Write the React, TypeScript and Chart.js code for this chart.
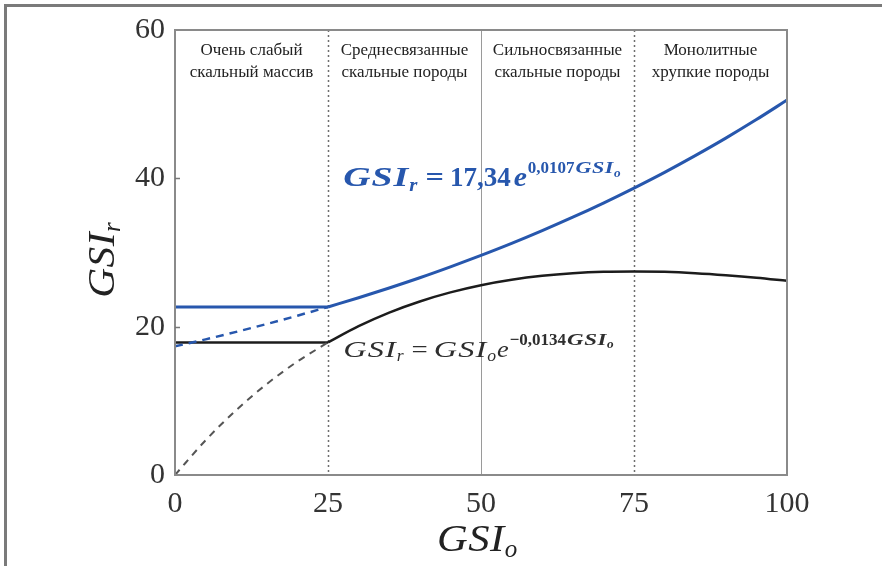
import React, { useEffect, useRef } from "react";
import { Chart, registerables } from "chart.js";

Chart.register(...registerables);

// ---- data ----
const gsiO = [0, 5, 10, 15, 20, 25, 30, 35, 40, 45, 50, 55, 60, 65, 70, 75, 80, 85, 90, 95, 100];
const blueFit = [17.34, 18.29, 19.3, 20.36, 21.48, 22.66, 23.9, 25.22, 26.6, 28.07, 29.61, 31.23, 32.95, 34.76, 36.67, 38.69, 40.81, 43.06, 45.42, 47.92, 50.55];
const blackFit = [0, 4.68, 8.75, 12.27, 15.3, 17.88, 20.07, 21.9, 23.4, 24.62, 25.59, 26.32, 26.85, 27.2, 27.4, 27.45, 27.39, 27.21, 26.94, 26.6, 26.18];
const bluePlateau = 22.66;
const blackPlateau = 17.88;
const breakPoint = 25;
const xTickStep = 25;
const yTickStep = 20;
const xRange = [0, 100];
const yRange = [0, 60];
const zoneBounds = [0, 25, 50, 75, 100];
const dottedLines = [25, 75];
const solidLines = [50];
const zoneLabels = [
  ["Очень слабый", "скальный массив"],
  ["Среднесвязанные", "скальные породы"],
  ["Сильносвязанные", "скальные породы"],
  ["Монолитные", "хрупкие породы"],
];
const blueEqAnchor = { x: 27.5, y: 39.0 };
const blackEqAnchor = { x: 27.5, y: 15.9 };

const SERIF = "'Liberation Serif', 'Times New Roman', serif";
const BLUE = "#2757ad";
const BLACK = "#1c1c1c";

type Seg = { t: string; font: string; color: string; dy?: number; gap?: number; ls?: number; sx?: number };

function segWidth(ctx: CanvasRenderingContext2D, s: Seg) {
  ctx.font = s.font;
  (ctx as any).letterSpacing = "0px";
  return ctx.measureText(s.t).width * (s.sx || 1) + (s.ls || 0) * s.t.length + (s.gap || 0);
}

function richWidth(ctx: CanvasRenderingContext2D, segs: Seg[]) {
  let w = 0;
  for (const s of segs) w += segWidth(ctx, s);
  return w;
}

function drawRich(ctx: CanvasRenderingContext2D, x: number, y: number, segs: Seg[]) {
  let cx = x;
  ctx.textAlign = "left";
  ctx.textBaseline = "alphabetic";
  for (const s of segs) {
    const w = segWidth(ctx, s);
    ctx.save();
    ctx.font = s.font;
    ctx.fillStyle = s.color;
    (ctx as any).letterSpacing = `${(s.ls || 0) / (s.sx || 1)}px`;
    ctx.translate(cx, y + (s.dy || 0));
    ctx.scale(s.sx || 1, 1);
    ctx.fillText(s.t, 0, 0);
    ctx.restore();
    cx += w;
  }
}

const decoPlugin = {
  id: "deco",
  beforeDraw(chart: any) {
    const ctx = chart.ctx as CanvasRenderingContext2D;
    ctx.save();
    ctx.fillStyle = "#ffffff";
    ctx.fillRect(0, 0, chart.width, chart.height);
    ctx.strokeStyle = "#7a7a7a";
    ctx.lineWidth = 3;
    ctx.beginPath();
    ctx.moveTo(5.5, chart.height);
    ctx.lineTo(5.5, 5.5);
    ctx.lineTo(chart.width, 5.5);
    ctx.stroke();
    ctx.restore();
  },
  beforeDatasetsDraw(chart: any) {
    const ctx = chart.ctx as CanvasRenderingContext2D;
    const { top, bottom } = chart.chartArea;
    const xs = chart.scales.x;
    ctx.save();
    ctx.strokeStyle = "#6e6e6e";
    ctx.lineWidth = 1.5;
    ctx.setLineDash([2, 3]);
    for (const v of dottedLines) {
      const px = Math.round(xs.getPixelForValue(v)) + 0.5;
      ctx.beginPath();
      ctx.moveTo(px, top);
      ctx.lineTo(px, bottom);
      ctx.stroke();
    }
    ctx.setLineDash([]);
    ctx.strokeStyle = "#9a9a9a";
    ctx.lineWidth = 1;
    for (const v of solidLines) {
      const px = Math.round(xs.getPixelForValue(v)) + 0.5;
      ctx.beginPath();
      ctx.moveTo(px, top);
      ctx.lineTo(px, bottom);
      ctx.stroke();
    }
    ctx.restore();
  },
  afterDatasetsDraw(chart: any) {
    const ctx = chart.ctx as CanvasRenderingContext2D;
    const { left, right, top, bottom } = chart.chartArea;
    const xs = chart.scales.x;
    const ys = chart.scales.y;
    ctx.save();
    // plot frame
    ctx.strokeStyle = "#8a8a8a";
    ctx.lineWidth = 2;
    ctx.strokeRect(left, top, right - left, bottom - top);
    // inward ticks on y axis
    ctx.lineWidth = 1.5;
    ctx.strokeStyle = "#777";
    for (let v = yRange[0] + yTickStep; v < yRange[1]; v += yTickStep) {
      const py = Math.round(ys.getPixelForValue(v)) + 0.5;
      ctx.beginPath();
      ctx.moveTo(left, py);
      ctx.lineTo(left + 5, py);
      ctx.stroke();
    }
    // zone labels
    ctx.fillStyle = "#222";
    ctx.font = `17px ${SERIF}`;
    ctx.textAlign = "center";
    ctx.textBaseline = "alphabetic";
    for (let i = 0; i < zoneLabels.length; i++) {
      const cx = xs.getPixelForValue((zoneBounds[i] + zoneBounds[i + 1]) / 2);
      ctx.fillText(zoneLabels[i][0], cx, top + 25);
      ctx.fillText(zoneLabels[i][1], cx, top + 47);
    }
    // blue equation
    const blueSegs: Seg[] = [
      { t: "GSI", font: `bold italic 28px ${SERIF}`, color: BLUE, sx: 1.35, ls: 1 },
      { t: "r", font: `bold italic 19px ${SERIF}`, color: BLUE, dy: 5, gap: 8, sx: 1.1 },
      { t: "=", font: `bold 27px ${SERIF}`, color: BLUE, gap: 6, sx: 1.2 },
      { t: "17,34", font: `bold 27px ${SERIF}`, color: BLUE, gap: 3 },
      { t: "e", font: `bold italic 27px ${SERIF}`, color: BLUE, gap: 1, sx: 1.1 },
      { t: "0,0107", font: `bold 17px ${SERIF}`, color: BLUE, dy: -13, gap: 1 },
      { t: "GSI", font: `bold italic 17px ${SERIF}`, color: BLUE, dy: -13, sx: 1.3, ls: 0.5 },
      { t: "o", font: `bold italic 12px ${SERIF}`, color: BLUE, dy: -9, sx: 1.1 },
    ];
    drawRich(ctx, xs.getPixelForValue(blueEqAnchor.x), ys.getPixelForValue(blueEqAnchor.y), blueSegs);
    // black equation
    const C = "#2e2e2e";
    const blackSegs: Seg[] = [
      { t: "GSI", font: `italic 24px ${SERIF}`, color: C, sx: 1.35, ls: 1 },
      { t: "r", font: `italic 16px ${SERIF}`, color: C, dy: 4, gap: 8, sx: 1.1 },
      { t: "=", font: `24px ${SERIF}`, color: C, gap: 6, sx: 1.2 },
      { t: "GSI", font: `italic 24px ${SERIF}`, color: C, sx: 1.35, ls: 1 },
      { t: "o", font: `italic 16px ${SERIF}`, color: C, dy: 4, gap: 1, sx: 1.1 },
      { t: "e", font: `italic 24px ${SERIF}`, color: C, gap: 1, sx: 1.1 },
      { t: "−0,0134", font: `bold 17px ${SERIF}`, color: C, dy: -12, gap: 1 },
      { t: "GSI", font: `bold italic 17px ${SERIF}`, color: C, dy: -12, sx: 1.35, ls: 0.5 },
      { t: "o", font: `bold italic 12px ${SERIF}`, color: C, dy: -9, sx: 1.1 },
    ];
    drawRich(ctx, xs.getPixelForValue(blackEqAnchor.x), ys.getPixelForValue(blackEqAnchor.y), blackSegs);
    // axis titles
    const tf = `italic 37px ${SERIF}`;
    const sf = `italic 25px ${SERIF}`;
    const xTitle: Seg[] = [
      { t: "GSI", font: tf, color: "#222", sx: 1.15, ls: 0.5 },
      { t: "o", font: sf, color: "#222", dy: 6 },
    ];
    drawRich(ctx, 437 + (xs.getPixelForValue(50) - 481), 551, xTitle);
    const yTitle: Seg[] = [
      { t: "GSI", font: tf, color: "#222", sx: 1.12, ls: 0.5 },
      { t: "r", font: sf, color: "#222", dy: 6 },
    ];
    const yw = richWidth(ctx, yTitle);
    ctx.translate(114, 260);
    ctx.rotate(-Math.PI / 2);
    drawRich(ctx, -yw / 2, 0, yTitle);
    ctx.restore();
  },
};

export default function App() {
  const ref = useRef<HTMLCanvasElement | null>(null);
  useEffect(() => {
    if (!ref.current) return;
    const pts = (ys: number[]) => gsiO.map((x, i) => ({ x, y: ys[i] }));
    const blueCurve = pts(blueFit).filter((p) => p.x >= breakPoint);
    const blueDash = pts(blueFit).filter((p) => p.x <= breakPoint);
    const blackCurve = pts(blackFit).filter((p) => p.x >= breakPoint);
    const blackDash = pts(blackFit).filter((p) => p.x <= breakPoint);
    const bluePlat = [{ x: xRange[0], y: bluePlateau }, { x: breakPoint, y: bluePlateau }];
    const blackPlat = [{ x: xRange[0], y: blackPlateau }, { x: breakPoint, y: blackPlateau }];
    const base = { pointRadius: 0, fill: false, cubicInterpolationMode: "monotone" as const, borderCapStyle: "butt" as const };
    const chart = new Chart(ref.current, {
      type: "line",
      data: {
        datasets: [
          { ...base, label: "blackDash", data: blackDash, borderColor: "#555", borderWidth: 2, borderDash: [7, 6] },
          { ...base, label: "blueDash", data: blueDash, borderColor: BLUE, borderWidth: 2.5, borderDash: [8, 6] },
          { ...base, label: "blackPlat", data: blackPlat, borderColor: BLACK, borderWidth: 2.5 },
          { ...base, label: "blackCurve", data: blackCurve, borderColor: BLACK, borderWidth: 2.5 },
          { ...base, label: "bluePlat", data: bluePlat, borderColor: BLUE, borderWidth: 3 },
          { ...base, label: "blueCurve", data: blueCurve, borderColor: BLUE, borderWidth: 3 },
        ],
      },
      options: {
        responsive: false,
        animation: false,
        layout: { padding: { left: 0, top: 30, right: 95, bottom: 0 } },
        plugins: { legend: { display: false }, tooltip: { enabled: false }, title: { display: false } },
        scales: {
          x: {
            type: "linear",
            min: xRange[0],
            max: xRange[1],
            ticks: { stepSize: xTickStep, color: "#333", font: { size: 30, family: SERIF }, padding: 11, maxRotation: 0 },
            grid: { display: false, drawTicks: false },
            border: { display: false },
            afterFit: (s: any) => { s.height = 91; },
          },
          y: {
            type: "linear",
            min: yRange[0],
            max: yRange[1],
            ticks: { stepSize: yTickStep, color: "#333", font: { size: 30, family: SERIF }, padding: 10 },
            grid: { display: false, drawTicks: false },
            border: { display: false },
            afterFit: (s: any) => { s.width = 175; },
          },
        },
      },
      plugins: [decoPlugin],
    });
    return () => chart.destroy();
  }, []);
  return (
    <div style={{ position: "absolute", left: 0, top: 0, width: 882, height: 566 }}>
      <canvas ref={ref} width={882} height={566} style={{ display: "block" }} />
    </div>
  );
}
